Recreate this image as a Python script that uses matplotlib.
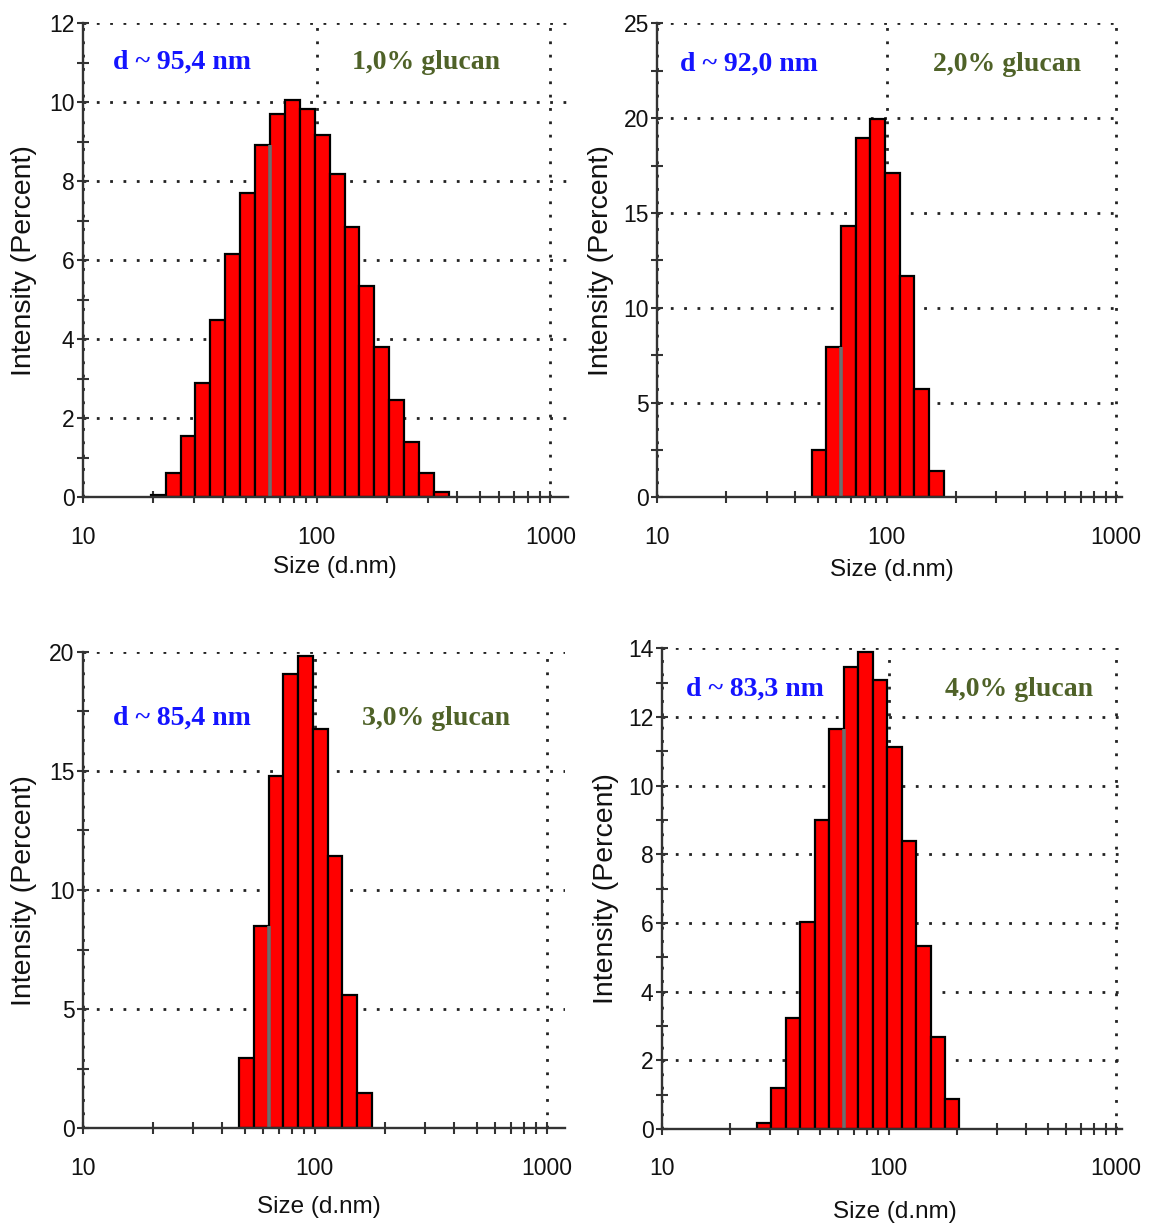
import numpy as np
import matplotlib
matplotlib.use('Agg')
import matplotlib.pyplot as plt
from matplotlib.ticker import MultipleLocator, LogLocator, NullFormatter, FixedLocator, FixedFormatter

plt.rcParams['font.family'] = ['Liberation Sans', 'DejaVu Sans']

# size classes (d.nm) and intensity distributions for each glucan concentration
sizes_1 = [21.04, 24.36, 28.21, 32.67, 37.84, 43.82, 50.75, 58.77, 68.06, 78.82,
           91.28, 105.7, 122.4, 141.8, 164.2, 190.1, 220.2, 255.0, 295.3, 342.0]
intensity_1 = [0.07, 0.61, 1.55, 2.89, 4.49, 6.15, 7.71, 8.92, 9.71, 10.06,
               9.84, 9.17, 8.19, 6.84, 5.36, 3.81, 2.46, 1.40, 0.61, 0.13]

sizes_2 = [50.75, 58.77, 68.06, 78.82, 91.28, 105.7, 122.4, 141.8, 164.2]
intensity_2 = [2.49, 7.93, 14.33, 18.95, 19.93, 17.10, 11.66, 5.70, 1.37]

sizes_3 = [50.75, 58.77, 68.06, 78.82, 91.28, 105.7, 122.4, 141.8, 164.2]
intensity_3 = [2.94, 8.49, 14.78, 19.05, 19.82, 16.78, 11.43, 5.61, 1.47]

sizes_4 = [28.21, 32.67, 37.84, 43.82, 50.75, 58.77, 68.06, 78.82, 91.28,
           105.7, 122.4, 141.8, 164.2, 190.1]
intensity_4 = [0.18, 1.20, 3.22, 6.02, 9.00, 11.66, 13.46, 13.90, 13.08,
               11.11, 8.39, 5.33, 2.67, 0.86]

diameters = ['d ~ 95,4 nm', 'd ~ 92,0 nm', 'd ~ 85,4 nm', 'd ~ 83,3 nm']
glucan = ['1,0% glucan', '2,0% glucan', '3,0% glucan', '4,0% glucan']

# log width of one size class
step = 10 ** 0.0319

panels = [
    dict(sizes=sizes_1, vals=intensity_1, rect=[0.0718, 0.5947, 0.4213, 0.3863],
         xmax=1190, ymax=12, major=2, minor=1,
         d_pos=(0.062, 0.918), g_pos=(0.555, 0.918), xlab=(0.519, -0.147)),
    dict(sizes=sizes_2, vals=intensity_2, rect=[0.5706, 0.5947, 0.4034, 0.3863],
         xmax=1060, ymax=25, major=5, minor=2.5,
         d_pos=(0.049, 0.914), g_pos=(0.593, 0.914), xlab=(0.505, -0.153)),
    dict(sizes=sizes_3, vals=intensity_3, rect=[0.0718, 0.0804, 0.4187, 0.3884],
         xmax=1200, ymax=20, major=5, minor=2.5,
         d_pos=(0.063, 0.861), g_pos=(0.579, 0.861), xlab=(0.490, -0.165)),
    dict(sizes=sizes_4, vals=intensity_4, rect=[0.5744, 0.0799, 0.3993, 0.3918],
         xmax=1060, ymax=14, major=2, minor=1,
         d_pos=(0.053, 0.914), g_pos=(0.616, 0.914), xlab=(0.507, -0.173)),
]

fig = plt.figure(figsize=(11.52, 12.27), dpi=100)
axis_col = '#333333'
text_col = '#111111'

for i, p in enumerate(panels):
    ax = fig.add_axes(p['rect'])
    sizes = np.array(p['sizes'])
    vals = np.array(p['vals'])
    left = sizes / step
    right = sizes * step
    ax.bar(left, vals, width=right - left, align='edge', color='#ff0000',
           edgecolor='black', linewidth=1.6, zorder=3)

    # the boundary between the 58.77 and 68.06 classes shows as a grey line
    j = list(p['sizes']).index(58.77)
    ax.vlines(right[j], 0, min(vals[j], vals[j + 1]), color='#6e6e6e',
              linewidth=2.6, zorder=4)

    ax.set_xscale('log')
    ax.set_xlim(10, p['xmax'])
    ax.set_ylim(0, p['ymax'])

    ax.xaxis.set_major_locator(FixedLocator([10, 100, 1000]))
    ax.xaxis.set_major_formatter(FixedFormatter(['10', '100', '1000']))
    ax.xaxis.set_minor_locator(LogLocator(base=10, subs=np.arange(2, 10)))
    ax.xaxis.set_minor_formatter(NullFormatter())
    ax.yaxis.set_major_locator(MultipleLocator(p['major']))
    ax.yaxis.set_minor_locator(MultipleLocator(p['minor']))

    for s in ['top', 'right']:
        ax.spines[s].set_visible(False)
    for s in ['left', 'bottom']:
        ax.spines[s].set_color(axis_col)
        ax.spines[s].set_linewidth(1.7)
        ax.spines[s].set_zorder(5)

    ax.tick_params(axis='both', which='both', direction='inout', length=9,
                   width=1.5, color=axis_col, labelsize=16.5, labelcolor=text_col)
    ax.tick_params(axis='x', which='both', pad=16)
    ax.tick_params(axis='y', which='both', pad=1.5)

    ax.grid(True, which='major', color='#222222', linestyle=(0, (1, 3.8)),
            linewidth=2.0, zorder=0)
    ax.set_axisbelow(True)

    ax.set_xlabel('Size (d.nm)', fontsize=17.5, color=text_col)
    ax.xaxis.set_label_coords(*p['xlab'])
    ax.xaxis.label.set_va('center')
    ax.set_ylabel('Intensity (Percent)', fontsize=20.5, color=text_col)
    ax.yaxis.set_label_coords(-0.122, 0.5)
    ax.yaxis.label.set_va('center')

    ax.text(*p['d_pos'], diameters[i], transform=ax.transAxes, ha='left', va='center',
            fontsize=20, fontweight='bold', color='#1414ff', family='Liberation Serif')
    ax.text(*p['g_pos'], glucan[i], transform=ax.transAxes, ha='left', va='center',
            fontsize=20, fontweight='bold', color='#4f6228', family='Liberation Serif')

fig.savefig('out.png', dpi=100)
